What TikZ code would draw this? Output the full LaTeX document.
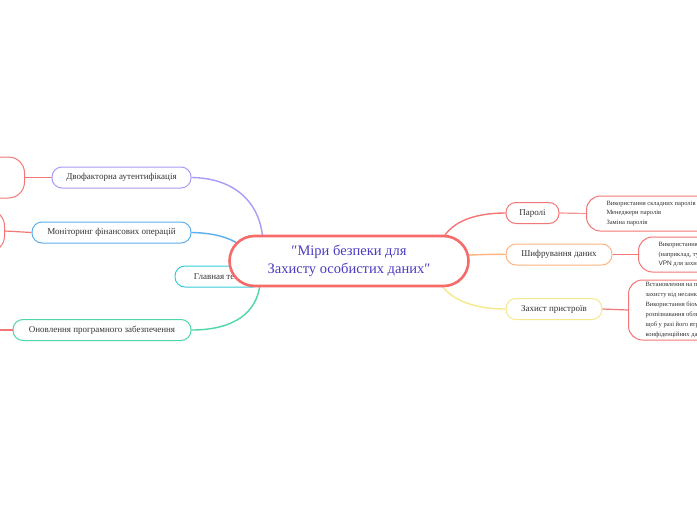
\documentclass[tikz,border=0pt]{standalone}
\usepackage{fontspec}
\setmainfont{Liberation Serif}
\newfontfamily\vpnfont{Liberation Sans}
\usetikzlibrary{calc}
\definecolor{cred}{HTML}{F66A6A}
\definecolor{cpurple}{HTML}{4B3BC4}
\definecolor{lav}{HTML}{A99CF7}
\definecolor{blu}{HTML}{5CAFEF}
\definecolor{tea}{HTML}{36CCDA}
\definecolor{grn}{HTML}{4ED8A6}
\definecolor{redb}{HTML}{F47676}
\definecolor{org}{HTML}{FFB37E}
\definecolor{yel}{HTML}{F6E88C}
\definecolor{txt}{HTML}{333333}
\begin{document}
\begin{tikzpicture}[x=1pt,y=-1pt,
  branch/.style={draw, rounded corners=10pt, line width=1pt, fill=white, minimum height=21pt, inner sep=0pt, font=\fontsize{9}{11}\selectfont, text=txt},
  leaf/.style={draw=redb, line width=1pt, rounded corners=14pt, fill=white, anchor=west, align=left, font=\fontsize{6.5}{9.5}\selectfont, text=txt, inner ysep=0pt},
  conn/.style={line width=1.4pt},
  lconn/.style={line width=1.2pt, draw=redb}]
\useasboundingbox (0,0) rectangle (697,520);
\clip (0,0) rectangle (697,520);
\fill[white] (0,0) rectangle (697,520);

% left branches
\node[branch, draw=lav, minimum width=139pt] (dva) at (121.5,177.5) {Двофакторна аутентифікація};
\node[branch, draw=blu, minimum width=159pt] (mon) at (111.5,232.5) {Моніторинг фінансових операцій};
\node[branch, draw=tea, minimum width=88pt] (gl) at (219,276.5) {Главная тема};
\node[branch, draw=grn, minimum width=178pt] (ono) at (102,330) {Оновлення програмного забезпечення};

% right branches
\node[branch, draw=redb, minimum width=53pt] (par) at (532.5,213) {Паролі};
\node[branch, draw=org, minimum width=106pt] (shi) at (559,254.5) {Шифрування даних};
\node[branch, draw=yel, minimum width=96pt] (zah) at (554,309) {Захист пристроїв};

% left leaves
\node[draw=redb, line width=1pt, rounded corners=16pt, fill=white, anchor=east, minimum width=110pt, minimum height=41pt] (l1) at (25,177.5) {};
\node[draw=redb, line width=1pt, rounded corners=16pt, fill=white, anchor=east, minimum width=110pt, minimum height=42pt] (l2) at (5,231) {};
\coordinate (l3) at (-2,330);

% right leaves
\node[leaf, minimum height=35pt, inner xsep=20pt] (r1) at (586,213.5) {Використання складних паролів\\Менеджери паролів\\Заміна паролів};
\node[leaf, minimum height=35pt, inner xsep=20pt] (r2) at (638,254.5) {Використання шифрування\\(наприклад, тунелів\\{\vpnfont VPN} для захисту даних)};
\node[leaf, minimum height=60pt, inner xsep=17pt, font=\fontsize{6.5}{10}\selectfont] (r3) at (628,310) {Встановлення на пристрої програм\\захисту від несанкціонованого доступу.\\Використання біометричного\\розпізнавання обличчя або відбитків,\\щоб у разі його втрати не втратити\\конфіденційних даних};

% leaf connectors
\draw[lconn] (l1.east) -- (dva.west);
\draw[lconn] (l2.east) -- (mon.west);
\draw[lconn] (l3) -- (ono.west);
\draw[lconn, draw=redb!75] (par.east) -- (r1.west);
\draw[lconn] (shi.east) -- (r2.west);
\draw[lconn] (zah.east) -- (r3.west);

% central connectors
\coordinate (cdva) at (263,242);
\coordinate (cmon) at (242,246);
\coordinate (cono) at (260,284);
\coordinate (cpar) at (442,240);
\coordinate (cshi) at (466,255);
\coordinate (czah) at (440,283);
\draw[conn, lav] (dva.east) .. controls (232,178) and (261,200) .. (cdva);
\draw[conn, blu] (mon.east) .. controls (216,233) and (230,238) .. (cmon);
\draw[conn, grn] (ono.east) .. controls (235,330) and (257,312) .. (cono);
\draw[conn, redb] (par.west) .. controls (478,213) and (452,220) .. (cpar);
\draw[conn, org] (shi.west) .. controls (488,254) and (478,255) .. (cshi);
\draw[conn, yel] (zah.west) .. controls (478,309) and (452,302) .. (czah);

% central node
\node[draw=cred, line width=2.6pt, rounded corners=25pt, fill=white, minimum width=239pt, minimum height=50pt, align=center, text=cpurple, font=\fontsize{14.5}{18}\selectfont, inner sep=0pt] (c) at (349,261) {\char"2033Міри безпеки для\\Захисту особистих даних\char"2033};
\end{tikzpicture}
\end{document}
